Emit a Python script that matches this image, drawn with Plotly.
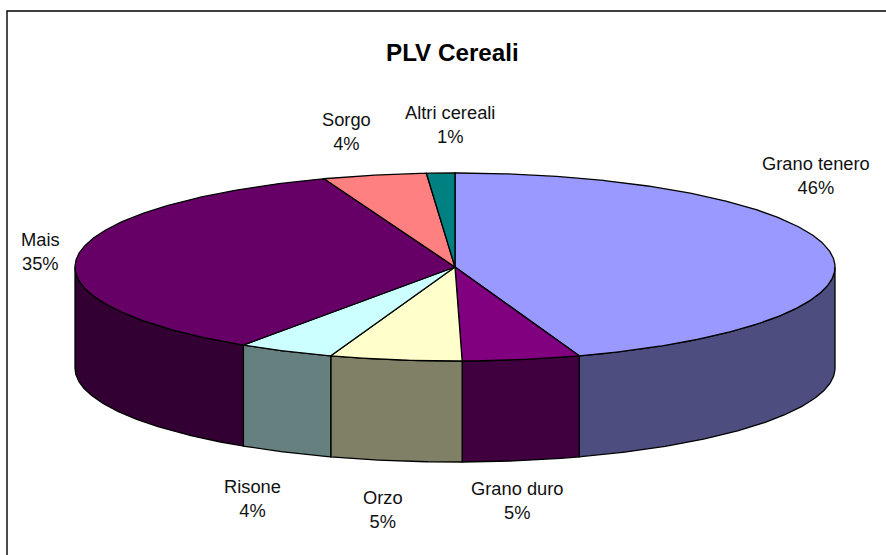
import numpy as np
import plotly.graph_objects as go

categories = ["Grano tenero", "Grano duro", "Orzo", "Risone", "Mais", "Sorgo", "Altri cereali"]
# Slice sizes (per cent of the circle)
shares = [44.7, 5.0, 5.6, 4.1, 35.0, 4.4, 1.2]
percent_labels = ["46%", "5%", "5%", "4%", "35%", "4%", "1%"]
top_colors = ["#9999FF", "#800080", "#FFFFCC", "#CCFFFF", "#660066", "#FF8080", "#008080"]
side_colors = ["#4D4D80", "#400040", "#808066", "#668080", "#330033", "#804040", "#004040"]
title_text = "PLV Cereali"

CX, CY, RX, RY, DEPTH = 455, 267, 380, 94, 101
label_xy = {
    "Grano tenero": (816, 175), "Grano duro": (517, 500), "Orzo": (383, 509),
    "Risone": (252, 498), "Mais": (40, 251), "Sorgo": (346, 131), "Altri cereali": (450, 124),
}
FONT = "Liberation Sans, Arial, sans-serif"


def arc(a0, a1, dy=0.0):
    n = max(2, int(abs(a1 - a0) * 2) + 2)
    t = np.radians(np.linspace(a0, a1, n))
    return CX + RX * np.sin(t), CY - RY * np.cos(t) + dy


fig = go.Figure()
fractions = np.array(shares) / sum(shares) * 360
ends = np.cumsum(fractions)
starts = ends - fractions
line = dict(color="black", width=1.3)


def poly(x, y, color):
    fig.add_trace(go.Scatter(x=list(x), y=list(y), mode="lines", fill="toself",
                             fillcolor=color, line=line, hoverinfo="skip", showlegend=False))


# side walls (only the front half, angles 90..270, is visible)
for a0, a1, c in zip(starts, ends, side_colors):
    lo, hi = max(a0, 90), min(a1, 270)
    if hi > lo:
        x1, y1 = arc(lo, hi)
        x2, y2 = arc(hi, lo, DEPTH)
        poly(np.r_[x1, x2, x1[0]], np.r_[y1, y2, y1[0]], c)

# top faces
for a0, a1, c in zip(starts, ends, top_colors):
    x, y = arc(a0, a1)
    poly(np.r_[CX, x, CX], np.r_[CY, y, CY], c)

anns = [dict(x=label_xy[n][0], y=label_xy[n][1], text=f"{n}<br>{p}", showarrow=False,
             font=dict(family=FONT, size=18.3, color="#111111"), align="center",
             xref="x", yref="y")
        for n, p in zip(categories, percent_labels)]
anns.append(dict(x=452, y=52, text=f"<b>{title_text}</b>", showarrow=False,
                 font=dict(family=FONT, size=24.2, color="black"), xref="x", yref="y"))

fig.update_layout(
    width=886, height=555, margin=dict(l=0, r=0, t=0, b=0),
    paper_bgcolor="white", plot_bgcolor="white", showlegend=False, annotations=anns,
    xaxis=dict(range=[0, 886], visible=False, fixedrange=True),
    yaxis=dict(range=[555, 0], visible=False, fixedrange=True),
    shapes=[dict(type="rect", x0=7, y0=11, x1=900, y1=560, xref="x", yref="y",
                 line=dict(color="black", width=1.4), layer="below")],
)
fig.write_html("out.html", config={"displayModeBar": False},
               post_script="document.body.style.margin='0';document.body.style.overflow='hidden';")
